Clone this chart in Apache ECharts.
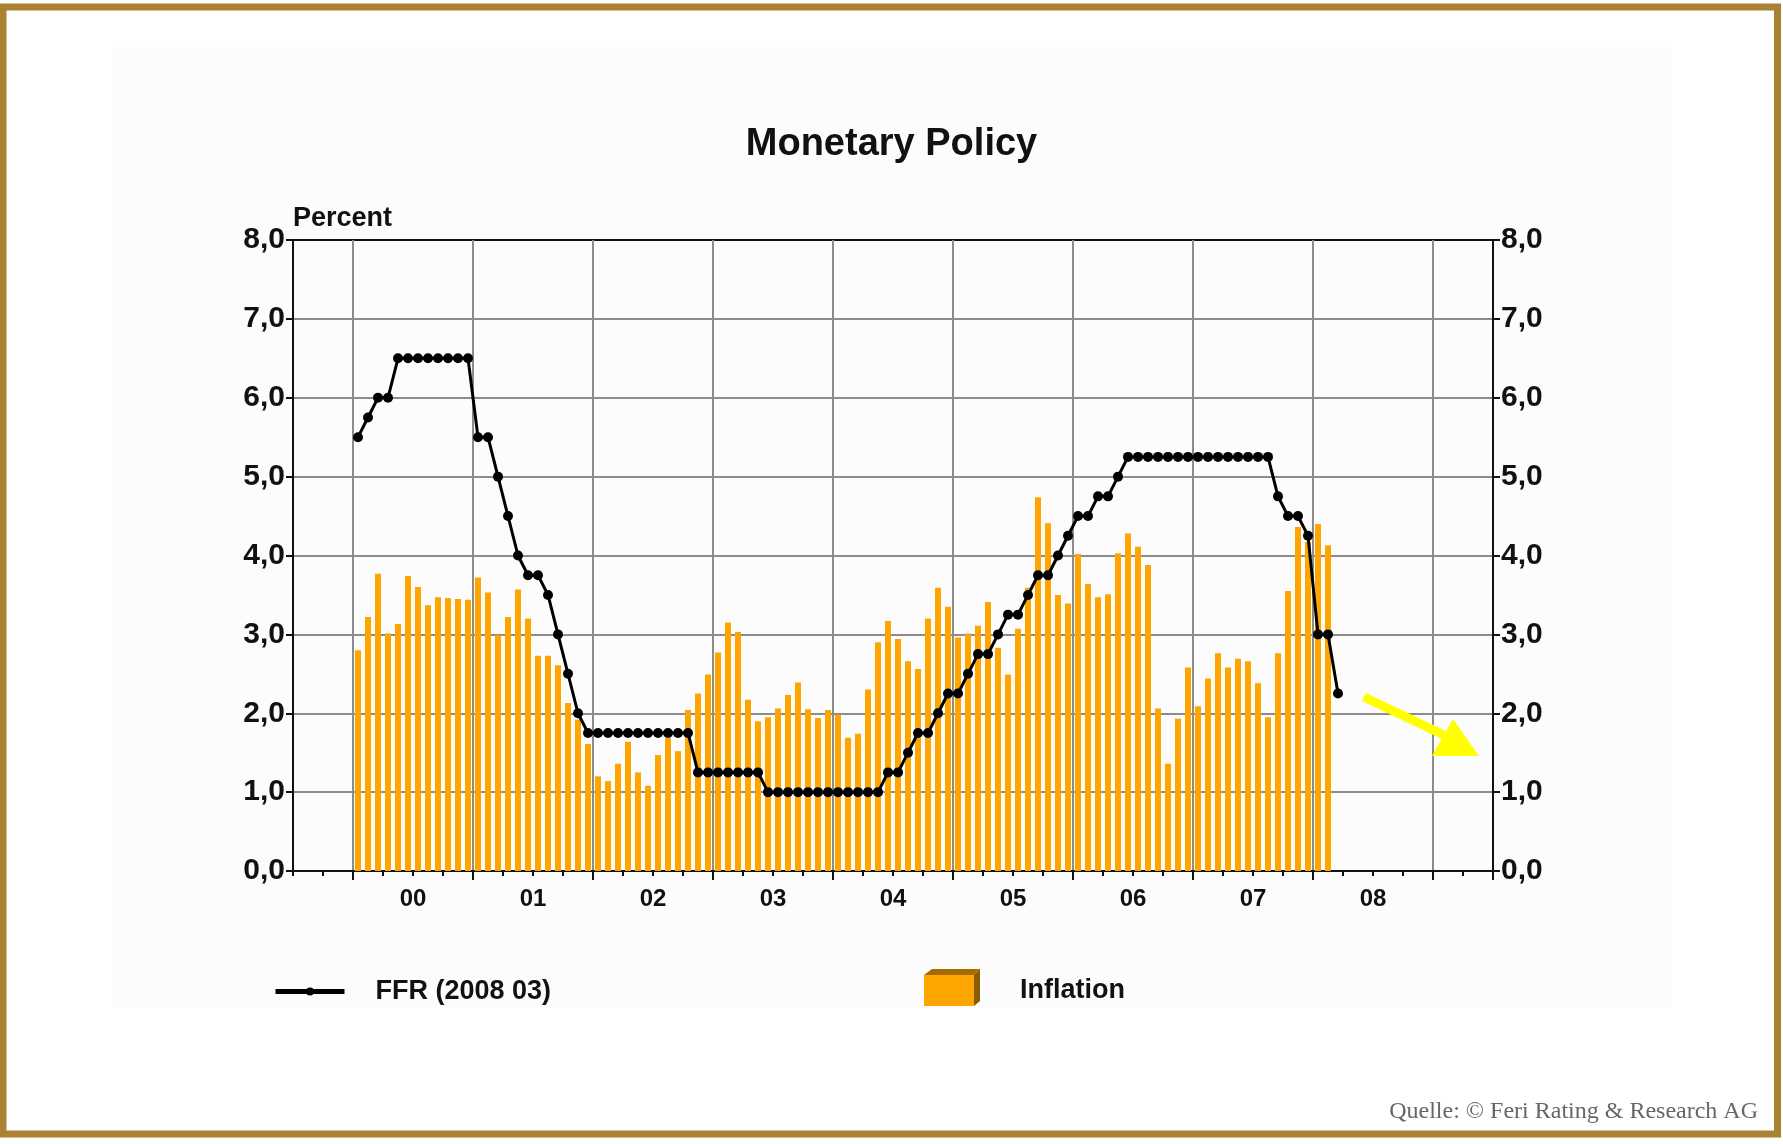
<!DOCTYPE html>
<html>
<head>
<meta charset="utf-8">
<script src="https://cdn.jsdelivr.net/npm/echarts@6/dist/echarts.min.js"></script>
<style>
html,body{margin:0;padding:0;background:#fff;}
#chart{width:1783px;height:1144px;}
</style>
</head>
<body>
<div id="chart"></div>
<script>
// Axis domain: monthly from Jul 1999 to Jun 2009
const startYear = 1999, startMonth = 7, monthCount = 120;
const leadMonths = 6; // Jul-Dec 1999 have no data
const yearLabels = ['00','01','02','03','04','05','06','07','08'];
const yTicks = [0,1,2,3,4,5,6,7,8];

// Federal funds rate, monthly Jan 2000 - Mar 2008
const ffr = [
  5.5,5.75,6.0,6.0,6.5,6.5,6.5,6.5,6.5,6.5,6.5,6.5,
  5.5,5.5,5.0,4.5,4.0,3.75,3.75,3.5,3.0,2.5,2.0,1.75,
  1.75,1.75,1.75,1.75,1.75,1.75,1.75,1.75,1.75,1.75,1.25,1.25,
  1.25,1.25,1.25,1.25,1.25,1.0,1.0,1.0,1.0,1.0,1.0,1.0,
  1.0,1.0,1.0,1.0,1.0,1.25,1.25,1.5,1.75,1.75,2.0,2.25,
  2.25,2.5,2.75,2.75,3.0,3.25,3.25,3.5,3.75,3.75,4.0,4.25,
  4.5,4.5,4.75,4.75,5.0,5.25,5.25,5.25,5.25,5.25,5.25,5.25,
  5.25,5.25,5.25,5.25,5.25,5.25,5.25,5.25,4.75,4.5,4.5,4.25,
  3.0,3.0,2.25
];

// Inflation, monthly Jan 2000 - Feb 2008
const inflation = [
  2.80,3.22,3.77,3.01,3.13,3.74,3.60,3.37,3.47,3.46,3.45,3.44,
  3.72,3.53,2.99,3.22,3.57,3.20,2.73,2.73,2.61,2.13,1.92,1.61,
  1.20,1.14,1.36,1.64,1.25,1.08,1.47,1.69,1.52,2.04,2.25,2.49,
  2.77,3.15,3.03,2.17,1.90,1.95,2.06,2.23,2.39,2.05,1.94,2.04,
  1.98,1.69,1.74,2.30,2.90,3.17,2.94,2.66,2.56,3.20,3.59,3.35,
  2.96,3.01,3.11,3.41,2.83,2.49,3.07,3.59,4.74,4.41,3.50,3.39,
  4.02,3.64,3.47,3.51,4.03,4.28,4.11,3.88,2.06,1.36,1.93,2.58,
  2.09,2.44,2.76,2.58,2.69,2.66,2.38,1.95,2.76,3.55,4.36,4.17,
  4.40,4.13
];

const months = [];
for (let i = 0; i < monthCount; i++) {
  const m0 = startMonth - 1 + i;
  const y = startYear + Math.floor(m0 / 12);
  const m = (m0 % 12) + 1;
  months.push(y + '-' + (m < 10 ? '0' + m : m));
}
const pad = new Array(leadMonths).fill('-');
const ffrData = pad.concat(ffr);
const inflData = pad.concat(inflation);

const FONT = '"Liberation Sans", Arial, Helvetica, sans-serif';
const fmtY = v => v.toFixed(1).replace('.', ',');

const chart = echarts.init(document.getElementById('chart'), null, {renderer: 'canvas'});
chart.setOption({
  animation: false,
  backgroundColor: '#ffffff',
  textStyle: {fontFamily: FONT},
  title: [
    {text: 'Monetary Policy', left: 'center', top: 126, padding: 0,
     textStyle: {fontFamily: FONT, fontSize: 38, fontWeight: 'bold', color: '#111'}},
    {text: 'Quelle: © Feri Rating & Research AG', right: 25, top: 1100, padding: 0,
     textStyle: {fontFamily: '"Liberation Serif", "Times New Roman", serif', fontSize: 24, fontWeight: 'normal', color: '#666'}}
  ],
  legend: [
    {data: ['FFR (2008 03)'], left: 273, top: 978, padding: 0, selectedMode: false,
     itemWidth: 69, itemHeight: 10, lineStyle: {width: 5},
     textStyle: {fontFamily: FONT, fontSize: 27, fontWeight: 'bold', color: '#111', padding: [0,0,0,26]}},
    {data: ['Inflation'], left: 924, top: 975, padding: 0, selectedMode: false,
     itemWidth: 50, itemHeight: 31, icon: 'rect',
     textStyle: {fontFamily: FONT, fontSize: 27, fontWeight: 'bold', color: '#111', padding: [0,0,0,41]}}
  ],
  grid: {left: 293, right: 290, top: 240, bottom: 273, show: true,
         borderColor: '#111', borderWidth: 2, backgroundColor: 'transparent'},
  xAxis: [
    {type: 'category', position: 'bottom', data: months, boundaryGap: true,
     axisLine: {show: true, lineStyle: {color: '#111', width: 2}},
     axisTick: {show: true, interval: (i) => i % 12 === 6, length: 9, lineStyle: {color: '#111', width: 2}},
     axisLabel: {show: false},
     splitLine: {show: true, interval: (i) => i % 12 === 6, lineStyle: {color: '#8c8c8c', width: 2}}},
    {type: 'category', position: 'bottom', data: months, boundaryGap: true,
     axisLine: {show: false},
     axisTick: {show: true, interval: (i) => i % 3 === 0, length: 5, lineStyle: {color: '#111', width: 2}},
     axisLabel: {show: false}, splitLine: {show: false}},
    {type: 'value', position: 'bottom', min: 0, max: 120, interval: 12,
     axisLine: {show: false}, axisTick: {show: false}, splitLine: {show: false},
     axisLabel: {show: true, margin: 16, fontFamily: FONT, fontSize: 24, fontWeight: 'bold', color: '#111',
       formatter: v => (v > 0 && v < 120) ? yearLabels[v / 12 - 1] : ''}}
  ],
  yAxis: [
    {type: 'value', position: 'left', min: yTicks[0], max: yTicks[yTicks.length - 1], interval: 1,
     name: 'Percent', nameLocation: 'end', nameGap: 8,
     nameTextStyle: {fontFamily: FONT, fontSize: 27, fontWeight: 'bold', color: '#111', align: 'left', verticalAlign: 'bottom'},
     axisLine: {show: true, lineStyle: {color: '#111', width: 2}},
     axisTick: {show: true, length: 7, lineStyle: {color: '#111', width: 2}},
     axisLabel: {margin: 8, fontFamily: FONT, fontSize: 30, fontWeight: 'bold', color: '#111', formatter: fmtY},
     splitLine: {show: true, showMinLine: false, showMaxLine: false, lineStyle: {color: '#8c8c8c', width: 2}}},
    {type: 'value', position: 'right', min: yTicks[0], max: yTicks[yTicks.length - 1], interval: 1,
     axisLine: {show: true, lineStyle: {color: '#111', width: 2}},
     axisTick: {show: true, length: 7, lineStyle: {color: '#111', width: 2}},
     axisLabel: {margin: 8, fontFamily: FONT, fontSize: 30, fontWeight: 'bold', color: '#111', formatter: fmtY},
     splitLine: {show: false}}
  ],
  series: [
    {name: 'Inflation', type: 'bar', xAxisIndex: 0, yAxisIndex: 0, data: inflData,
     barWidth: 6, itemStyle: {color: '#FFA500'}, z: 2},
    {name: 'FFR (2008 03)', type: 'line', xAxisIndex: 0, yAxisIndex: 0, data: ffrData,
     symbol: 'circle', symbolSize: 10, showAllSymbol: true,
     lineStyle: {color: '#000', width: 3}, itemStyle: {color: '#000'}, z: 5}
  ],
  graphic: [
    {type: 'rect', z: -10, silent: true, shape: {x: 112, y: 47, width: 1560, height: 961},
     style: {fill: '#fcfcfc'}},
    {type: 'rect', z: 100, silent: true, shape: {x: 3, y: 7, width: 1774.5, height: 1127},
     style: {fill: null, stroke: '#AB8233', lineWidth: 7}},
    // 3D shading of the Inflation legend box
    {type: 'polygon', z: 100, silent: true,
     shape: {points: [[924,975],[932,969],[980,969],[974,975]]}, style: {fill: '#A26C00'}},
    {type: 'polygon', z: 100, silent: true,
     shape: {points: [[974,975],[980,969],[980,1001],[974,1006]]}, style: {fill: '#8A5A00'}},
    // yellow arrow annotation
    {type: 'line', z: 100, silent: true, shape: {x1: 1364, y1: 697, x2: 1448, y2: 737},
     style: {stroke: '#FFFF00', lineWidth: 9}},
    {type: 'polygon', z: 100, silent: true,
     shape: {points: [[1453,719],[1479,756],[1432,756]]}, style: {fill: '#FFFF00'}}
  ]
});
</script>
</body>
</html>
